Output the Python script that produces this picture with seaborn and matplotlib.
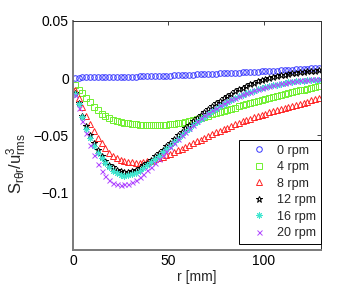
import numpy as np
import pandas as pd
import matplotlib
matplotlib.use("Agg")
import matplotlib.pyplot as plt
import seaborn as sns

# ---------------- data ----------------
r_mm = [1, 3, 5, 7, 9, 11, 13, 15, 17, 19, 21, 23, 25, 27, 29, 31, 33, 35, 37, 39,
        41, 43, 45, 47, 49, 51, 53, 55, 57, 59, 61, 63, 65, 67, 69, 71, 73, 75, 77, 79,
        81, 83, 85, 87, 89, 91, 93, 95, 97, 99, 101, 103, 105, 107, 109, 111, 113, 115,
        117, 119, 121, 123, 125, 127, 129]

s_0rpm = [0.0005, 0.0005, 0.0006, 0.0006, 0.0007, 0.0007, 0.0008, 0.0008, 0.0009, 0.0010,
          0.0010, 0.0011, 0.0011, 0.0012, 0.0013, 0.0013, 0.0014, 0.0015, 0.0016, 0.0017,
          0.0018, 0.0019, 0.0020, 0.0021, 0.0022, 0.0023, 0.0024, 0.0025, 0.0027, 0.0028,
          0.0030, 0.0031, 0.0033, 0.0034, 0.0036, 0.0037, 0.0039, 0.0040, 0.0042, 0.0043,
          0.0045, 0.0046, 0.0048, 0.0049, 0.0051, 0.0052, 0.0054, 0.0056, 0.0057, 0.0059,
          0.0061, 0.0062, 0.0064, 0.0066, 0.0068, 0.0070, 0.0072, 0.0074, 0.0076, 0.0078,
          0.0080, 0.0082, 0.0085, 0.0087, 0.0090]

s_4rpm = [-0.006, -0.010, -0.013, -0.017, -0.021, -0.025, -0.028, -0.031, -0.033, -0.035,
          -0.0365, -0.0375, -0.0385, -0.039, -0.0395, -0.040, -0.0403, -0.0405, -0.0407, -0.0408,
          -0.0409, -0.0409, -0.0409, -0.0408, -0.0406, -0.0404, -0.0400, -0.0395, -0.0390, -0.0383,
          -0.0375, -0.0366, -0.0357, -0.0347, -0.0337, -0.0327, -0.0317, -0.0307, -0.0297, -0.0287,
          -0.0277, -0.0267, -0.0257, -0.0247, -0.0237, -0.0227, -0.0217, -0.0207, -0.0197, -0.0188,
          -0.0179, -0.0170, -0.0161, -0.0153, -0.0145, -0.0137, -0.0129, -0.0121, -0.0114, -0.0107,
          -0.0100, -0.0093, -0.0086, -0.0079, -0.0072]

s_8rpm = [-0.010, -0.017, -0.025, -0.033, -0.040, -0.046, -0.052, -0.057, -0.061, -0.065,
          -0.068, -0.070, -0.0715, -0.0725, -0.0732, -0.0736, -0.0738, -0.0737, -0.0733, -0.0727,
          -0.0719, -0.0709, -0.0698, -0.0686, -0.0673, -0.0659, -0.0645, -0.0630, -0.0615, -0.0600,
          -0.0584, -0.0568, -0.0552, -0.0536, -0.0520, -0.0504, -0.0489, -0.0474, -0.0459, -0.0445,
          -0.0431, -0.0417, -0.0404, -0.0391, -0.0378, -0.0366, -0.0354, -0.0342, -0.0331, -0.0320,
          -0.0309, -0.0298, -0.0288, -0.0278, -0.0268, -0.0258, -0.0249, -0.0240, -0.0231, -0.0222,
          -0.0213, -0.0204, -0.0195, -0.0186, -0.0177]

s_12rpm = [-0.013, -0.022, -0.033, -0.042, -0.050, -0.057, -0.063, -0.068, -0.072, -0.0755,
           -0.078, -0.0800, -0.0812, -0.0818, -0.0818, -0.0812, -0.0800, -0.0783, -0.0762, -0.0738,
           -0.0712, -0.0684, -0.0655, -0.0625, -0.0594, -0.0563, -0.0532, -0.0500, -0.0469, -0.0438,
           -0.0407, -0.0377, -0.0348, -0.0320, -0.0293, -0.0267, -0.0242, -0.0218, -0.0196, -0.0175,
           -0.0155, -0.0136, -0.0115, -0.0098, -0.0082, -0.0067, -0.0053, -0.0040, -0.0028, -0.0017,
           -0.0007, 0.0002, 0.0010, 0.0018, 0.0025, 0.0031, 0.0037, 0.0042, 0.0047, 0.0051,
           0.0055, 0.0059, 0.0062, 0.0065, 0.0068]

s_16rpm = [-0.014, -0.023, -0.034, -0.044, -0.052, -0.059, -0.065, -0.070, -0.0745, -0.078,
           -0.0810, -0.0832, -0.0845, -0.0850, -0.0848, -0.0840, -0.0826, -0.0808, -0.0786, -0.0762,
           -0.0736, -0.0708, -0.0679, -0.0649, -0.0619, -0.0589, -0.0559, -0.0529, -0.0499, -0.0470,
           -0.0441, -0.0413, -0.0386, -0.0360, -0.0335, -0.0311, -0.0288, -0.0266, -0.0245, -0.0226,
           -0.0208, -0.0191, -0.0175, -0.0160, -0.0146, -0.0133, -0.0121, -0.0110, -0.0099, -0.0089,
           -0.0080, -0.0071, -0.0063, -0.0056, -0.0049, -0.0043, -0.0037, -0.0032, -0.0028, -0.0024,
           -0.0021, -0.0018, -0.0016, -0.0014, -0.0012]

s_20rpm = [-0.015, -0.026, -0.037, -0.048, -0.058, -0.067, -0.075, -0.081, -0.0855, -0.0890,
           -0.0912, -0.0925, -0.0930, -0.0928, -0.0920, -0.0905, -0.0885, -0.0861, -0.0834, -0.0804,
           -0.0772, -0.0739, -0.0705, -0.0670, -0.0635, -0.0600, -0.0565, -0.0531, -0.0498, -0.0466,
           -0.0435, -0.0405, -0.0377, -0.0350, -0.0325, -0.0301, -0.0279, -0.0258, -0.0238, -0.0219,
           -0.0201, -0.0185, -0.0170, -0.0156, -0.0142, -0.0129, -0.0117, -0.0106, -0.0095, -0.0085,
           -0.0076, -0.0067, -0.0059, -0.0052, -0.0045, -0.0039, -0.0033, -0.0028, -0.0024, -0.0020,
           -0.0016, -0.0013, -0.0010, -0.0008, -0.0006]

labels = ["0 rpm", "4 rpm", "8 rpm", "12 rpm", "16 rpm", "20 rpm"]
series = [s_0rpm, s_4rpm, s_8rpm, s_12rpm, s_16rpm, s_20rpm]

x_ticks = [0, 50, 100]
y_ticks = [-0.1, -0.05, 0, 0.05]
y_tick_labels = ["\u22120.1", "\u22120.05", "0", "0.05"]

# ---------------- style ----------------
sns.set_theme(style="white")
plt.rcParams["font.family"] = ["Liberation Sans", "DejaVu Sans"]
plt.rcParams["mathtext.fontset"] = "custom"
plt.rcParams["mathtext.rm"] = "Liberation Sans"
plt.rcParams["mathtext.it"] = "Liberation Sans:italic"

colors = ["#3535ff", "#70f030", "#ff2525", "#000000", "#40e6d0", "#b048ff"]
markers = ["o", "s", "^", "*", (8, 2, 0), "x"]
msizes = [4.0, 4.0, 4.5, 4.8, 4.5, 3.6]
filled = [False, False, False, False, True, True]

fig = plt.figure(figsize=(3.54, 2.86), dpi=100)
ax = fig.add_axes([0.206, 0.126, 0.700, 0.801])

for lab, vals, c, m, ms, f in zip(labels, series, colors, markers, msizes, filled):
    df = pd.DataFrame({"r": r_mm, "S": vals})
    kw = dict(marker=m, linestyle="none", markersize=ms, markeredgewidth=0.7,
              markeredgecolor=c, color=c,
              markerfacecolor=(c if f else "none"))
    sns.lineplot(data=df, x="r", y="S", ax=ax, label=lab, estimator=None,
                 sort=False, **kw)

ax.set_xlim(0, 130)
ax.set_ylim(-0.15, 0.05)
ax.set_xticks(x_ticks)
ax.set_xticklabels([str(t) for t in x_ticks])
ax.set_yticks(y_ticks)
ax.set_yticklabels(y_tick_labels)
ax.tick_params(direction="in", length=3, width=0.6, labelsize=10, colors="#222222",
               top=True, right=True, pad=3)
for t in ax.get_xticklabels() + ax.get_yticklabels():
    t.set_color("black")

for side in ("left", "bottom"):
    ax.spines[side].set_color("#7a7a7a")
    ax.spines[side].set_linewidth(1.4)
for side in ("top", "right"):
    ax.spines[side].set_color("#303030")
    ax.spines[side].set_linewidth(0.7)

ax.set_xlabel("r [mm]", fontsize=10, labelpad=1)
ax.set_ylabel("")
fig.text(17 / 354, 1 - 163 / 286, r"$\mathrm{S_{r\theta r}/u^3_{rms}}$", fontsize=12,
         rotation=90, ha="center", va="center", rotation_mode="anchor")

leg = ax.legend(loc="lower right", bbox_to_anchor=(1.0, 0.026), fontsize=9,
                frameon=True, fancybox=False, framealpha=1, edgecolor="black",
                borderpad=0.4, labelspacing=0.36, handlelength=2.5,
                handletextpad=0.15, borderaxespad=0.0)
leg.get_frame().set_linewidth(0.7)

fig.savefig("out.png", dpi=100)
